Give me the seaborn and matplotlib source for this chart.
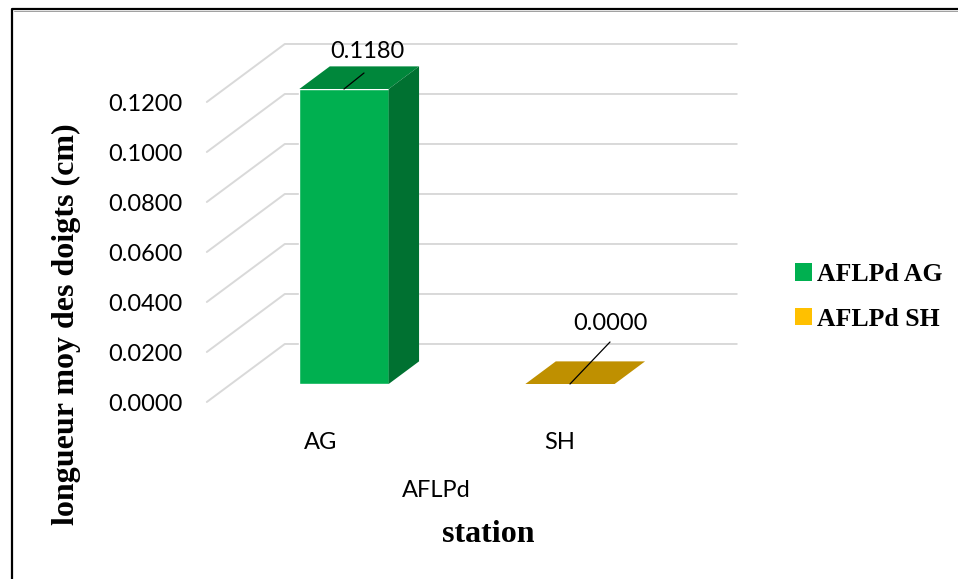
import matplotlib
matplotlib.use("Agg")
import matplotlib.pyplot as plt
import pandas as pd
import seaborn as sns
from matplotlib.patches import Polygon
from matplotlib.lines import Line2D
from matplotlib.transforms import IdentityTransform

# ---- data ----
stations = ["AG", "SH"]
series = ["AFLPd AG", "AFLPd SH"]
values = [0.1180, 0.0000]
group_label = "AFLPd"
y_ticks = [0.0, 0.02, 0.04, 0.06, 0.08, 0.10, 0.12]

front_colors = ["#00B050", "#FFC000"]
top_colors = ["#00873B", "#BF9000"]
side_colors = ["#007131", "#9E7700"]

sns.set_theme(style="white")
plt.rcParams["font.family"] = ["Lato", "DejaVu Sans"]
plt.rcParams["text.color"] = "black"

W, H = 958, 579
fig = plt.figure(figsize=(W / 100, H / 100), dpi=100)
fig.patch.set_facecolor("white")
ax = fig.add_axes([231 / W, 195 / H, 452 / W, 300 / H])

df = pd.DataFrame({"station": stations, "series": series, "value": values})
sns.barplot(data=df, x="station", y="value", hue="series", hue_order=series,
            palette=dict(zip(series, front_colors)), saturation=1,
            dodge=False, width=0.395, ax=ax, legend=False, zorder=2)
ax.set_xlim(-0.5, 1.5)
ax.set_ylim(0, 0.12)
ax.set_axis_off()

# oblique depth projection (pixels per unit depth), bar front plane depth
DX, DY = 78, 58
D_FRONT, D_BACK = 0.31, 0.70


def P(x, v, d, ox=0.0, oy=0.0):
    px, py = ax.transData.transform((x, v))
    return (px + (d - D_FRONT) * DX + ox, py + (d - D_FRONT) * DY + oy)


def add_line(pts, **kw):
    xs, ys = zip(*pts)
    ln = Line2D(xs, ys, transform=IdentityTransform(), clip_on=False, **kw)
    ax.add_line(ln)


def add_text(pt, s, **kw):
    ax.text(pt[0], pt[1], s, transform=IdentityTransform(), clip_on=False,
            color="black", **kw)


x_lo, x_hi = ax.get_xlim()

# gridlines: left wall diagonal + back wall horizontal
for v in y_ticks:
    add_line([P(x_lo, v, 0), P(x_lo, v, 1), P(x_hi, v, 1)],
             color="#D9D9D9", lw=1.4, zorder=0.5)
    add_text(P(x_lo, v, 0, ox=-24, oy=-3), f"{v:.4f}", ha="right", va="center",
             fontsize=17)

# depth faces for the bars
for i, cont in enumerate(ax.containers):
    for bar in cont:
        x0, w, h = bar.get_x(), bar.get_width(), bar.get_height()
        if w == 0 or pd.isna(h):
            continue
        top = [P(x0, h, D_FRONT), P(x0 + w, h, D_FRONT),
               P(x0 + w, h, D_BACK), P(x0, h, D_BACK)]
        ax.add_patch(Polygon(top, closed=True, transform=IdentityTransform(),
                             facecolor=top_colors[i], edgecolor="none",
                             clip_on=False, zorder=3))
        if h > 0:
            side = [P(x0 + w, 0, D_FRONT), P(x0 + w, h, D_FRONT),
                    P(x0 + w, h, D_BACK), P(x0 + w, 0, D_BACK)]
            ax.add_patch(Polygon(side, closed=True, transform=IdentityTransform(),
                                 facecolor=side_colors[i], edgecolor="none",
                                 clip_on=False, zorder=3))

# data labels with leader lines
leader_end = [(20, 16), (40, 42)]
label_pos = [(23, 37), (40, 61)]
for i, v in enumerate(values):
    a = P(i, v, D_FRONT)
    add_line([a, (a[0] + leader_end[i][0], a[1] + leader_end[i][1])],
             color="black", lw=0.9, zorder=4)
    add_text((a[0] + label_pos[i][0], a[1] + label_pos[i][1]), f"{v:.4f}",
             ha="center", va="center", fontsize=17, zorder=4)

# category labels under the floor
cat_shift = [1, 14]
for i, s in enumerate(stations):
    add_text(P(i, 0, 0, ox=cat_shift[i], oy=-41), s, ha="center", va="center",
             fontsize=17)
mid = P((len(stations) - 1) / 2, 0, 0, ox=3, oy=-89)
add_text(mid, group_label, ha="center", va="center", fontsize=17)

# axis titles
serif = ["Liberation Serif", "DejaVu Serif"]
fig.text(66 / W, 1 - 324 / H, "longueur moy des doigts (cm)", rotation=90,
         ha="center", va="center", fontsize=23, fontweight="bold", family=serif,
         color="black")
fig.text(488 / W, 1 - 534 / H, "station", ha="center", va="center",
         fontsize=23, fontweight="bold", family=serif, color="black")

# legend
handles = [plt.Rectangle((0, 0), 1, 1, facecolor=c, edgecolor="none")
           for c in front_colors]
leg = fig.legend(handles, series, loc="center left",
                 bbox_to_anchor=(772 / W, 1 - 297 / H),
                 frameon=False, handlelength=0.65, handleheight=0.65,
                 handletextpad=0.2, labelspacing=0.85,
                 prop={"family": serif, "weight": "bold", "size": 18.5})
for t in leg.get_texts():
    t.set_color("black")

# chart frame
fig.add_artist(Line2D([12, 12, W + 5], [-5, H - 8.5, H - 8.5],
                      transform=IdentityTransform(), color="black", lw=1.6))
fig.add_artist(Line2D([14, W + 5], [H - 10.5, H - 10.5],
                      transform=IdentityTransform(), color="#A0A0A0", lw=0.7))

fig.savefig("out.png", dpi=100)
